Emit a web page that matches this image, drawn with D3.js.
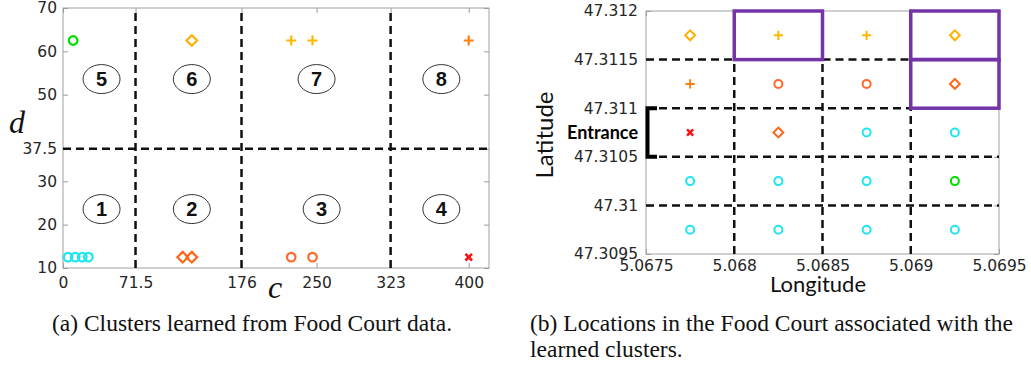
<!DOCTYPE html>
<html>
<head>
<meta charset="utf-8">
<script src="https://cdn.jsdelivr.net/npm/d3@7"></script>
<style>
  body { margin: 0; background: #fff; }
  svg { display: block; }
</style>
</head>
<body>
<div id="chart"></div>
<script>
// ---- panel (a) data: learned clusters in (c, d) space
const aC = [5, 12, 19, 25, 118, 127, 225, 246, 400, 10, 127, 225, 246, 400];
const aD = [12.5, 12.5, 12.5, 12.5, 12.5, 12.5, 12.5, 12.5, 12.5, 62.5, 62.5, 62.5, 62.5, 62.5];
const aKind = ["cyanO", "cyanO", "cyanO", "cyanO", "orangeD", "orangeD", "orangeO", "orangeO", "redX",
               "greenO", "amberD", "amberP", "amberP", "darkOrangeP"];
const aXTicks = [0, 71.5, 176, 250, 323, 400];
const aYTicks = [10, 20, 30, 37.5, 50, 60, 70];
const cSplits = [71.5, 176, 323];
const dSplit = 37.5;
const clusterIds = ["1", "2", "3", "4", "5", "6", "7", "8"];
const clusterC = [38, 127, 255, 373, 38, 127, 250, 373];
const clusterD = [23.6, 23.6, 23.6, 23.6, 53.6, 53.6, 53.6, 53.6];

// ---- panel (b) data: food court grid cells
const lonCenters = [5.06775, 5.06825, 5.06875, 5.06925];
const latCenters = [47.31175, 47.31125, 47.31075, 47.31025, 47.30975];
const cellKinds = [
  ["amberD", "amberP", "amberP", "amberD"],
  ["darkOrangeP", "orangeO", "orangeO", "orangeD"],
  ["redX", "orangeD", "cyanO", "cyanO"],
  ["cyanO", "cyanO", "cyanO", "greenO"],
  ["cyanO", "cyanO", "cyanO", "cyanO"]
];
const bXTicks = [5.0675, 5.068, 5.0685, 5.069, 5.0695];
const bYTicks = [47.3095, 47.31, 47.3105, 47.311, 47.3115, 47.312];
// dashed segments [lon1, lat1, lon2, lat2]
const bDashed = [
  [5.0675, 47.3115, 5.068, 47.3115],
  [5.0685, 47.3115, 5.069, 47.3115],
  [5.0675, 47.311, 5.069, 47.311],
  [5.0675, 47.3105, 5.0695, 47.3105],
  [5.0675, 47.31, 5.0695, 47.31],
  [5.068, 47.3095, 5.068, 47.3115],
  [5.0685, 47.3095, 5.0685, 47.3115],
  [5.069, 47.3095, 5.069, 47.311]
];
// highlighted cells [lon1, lat1, lon2, lat2]
const bBoxes = [
  [5.068, 47.3115, 5.0685, 47.312],
  [5.069, 47.3115, 5.0695, 47.312],
  [5.069, 47.311, 5.0695, 47.3115]
];
const entranceLat = [47.3105, 47.311];

const kindStyle = {
  cyanO:       { shape: "circle",  color: "#1fe6ef" },
  greenO:      { shape: "circle",  color: "#00dd00" },
  orangeO:     { shape: "circle",  color: "#ff6a2e" },
  orangeD:     { shape: "diamond", color: "#ff6418" },
  amberD:      { shape: "diamond", color: "#ffb000" },
  amberP:      { shape: "plus",    color: "#ffb800" },
  darkOrangeP: { shape: "plus",    color: "#ff8010" },
  redX:        { shape: "x",       color: "#ff1010" }
};

function markerPath(shape, s) {
  if (shape === "circle") {
    const p = d3.path();
    p.arc(0, 0, s, 0, 2 * Math.PI);
    return p.toString();
  }
  if (shape === "diamond") return `M0,${-s}L${s},0L0,${s}L${-s},0Z`;
  if (shape === "plus") return `M${-s},0H${s}M0,${-s}V${s}`;
  return `M${-s},${-s}L${s},${s}M${-s},${s}L${s},${-s}`;
}
const markerSize = { circle: 4.3, diamond: 5.3, plus: 5, x: 3.3 };

const tickFont = "'DejaVu Sans', sans-serif";
const svg = d3.select("#chart").append("svg")
  .attr("width", 1031)
  .attr("height", 368);

function styleAxis(g, showText) {
  g.select(".domain").remove();
  g.selectAll(".tick line").attr("stroke", "#9a9a9a");
  g.selectAll(".tick text")
    .attr("fill", "#262626")
    .attr("font-family", tickFont)
    .attr("font-size", 15.5)
    .style("display", showText ? null : "none");
}

// =============== panel (a) ===============
const aDim = { left: 63, right: 489, top: 8, bottom: 268 };
const xA = d3.scaleLinear().domain([0, 420]).range([aDim.left, aDim.right]);
const yA = d3.scaleLinear().domain([10, 70]).range([aDim.bottom, aDim.top]);
const gA = svg.append("g");

gA.append("g").attr("transform", `translate(0,${aDim.bottom})`)
  .call(d3.axisBottom(xA).tickValues(aXTicks).tickFormat(String).tickSize(-5).tickPadding(9))
  .call(g => styleAxis(g, true));
gA.append("g").attr("transform", `translate(${aDim.left},0)`)
  .call(d3.axisLeft(yA).tickValues(aYTicks).tickFormat(String).tickSize(-5).tickPadding(6))
  .call(g => styleAxis(g, true));
gA.append("g").attr("transform", `translate(0,${aDim.top})`)
  .call(d3.axisTop(xA).tickValues(aXTicks).tickSize(-5))
  .call(g => styleAxis(g, false));
gA.append("g").attr("transform", `translate(${aDim.right},0)`)
  .call(d3.axisRight(yA).tickValues(aYTicks).tickSize(-5))
  .call(g => styleAxis(g, false));

gA.append("rect")
  .attr("x", aDim.left).attr("y", aDim.top)
  .attr("width", aDim.right - aDim.left).attr("height", aDim.bottom - aDim.top)
  .attr("fill", "none").attr("stroke", "#a0a0a0");

// dashed partitions
gA.selectAll(".vsplit").data(cSplits).join("line")
  .attr("x1", d => xA(d)).attr("x2", d => xA(d))
  .attr("y1", yA(10)).attr("y2", yA(70))
  .attr("stroke", "#111").attr("stroke-width", 2.5).attr("stroke-dasharray", "8,5");
gA.append("line")
  .attr("x1", xA(0)).attr("x2", xA(420))
  .attr("y1", yA(dSplit)).attr("y2", yA(dSplit))
  .attr("stroke", "#111").attr("stroke-width", 2.5).attr("stroke-dasharray", "8,5");

// cluster labels
const lab = gA.selectAll(".lab").data(clusterIds).join("g")
  .attr("transform", (d, i) => `translate(${xA(clusterC[i])},${yA(clusterD[i])})`);
lab.append("ellipse").attr("rx", 18.5).attr("ry", 14.5)
  .attr("fill", "none").attr("stroke", "#333").attr("stroke-width", 1);
lab.append("text").text(d => d)
  .attr("text-anchor", "middle").attr("dy", "0.36em")
  .attr("font-family", "'Liberation Sans', Arial, sans-serif")
  .attr("font-weight", "bold").attr("font-size", 20).attr("fill", "#111");

// points
gA.selectAll(".pt").data(aC).join("path")
  .attr("transform", (d, i) => `translate(${xA(d)},${yA(aD[i])})`)
  .attr("d", (d, i) => {
    const sh = kindStyle[aKind[i]].shape;
    return markerPath(sh, markerSize[sh]);
  })
  .attr("fill", "none")
  .attr("stroke", (d, i) => kindStyle[aKind[i]].color)
  .attr("stroke-width", (d, i) => kindStyle[aKind[i]].shape === "x" ? 2.6 : 2.2);

// axis titles
gA.append("text").text("d")
  .attr("x", 9).attr("y", 133)
  .attr("font-family", "'Liberation Serif', serif").attr("font-style", "italic")
  .attr("font-size", 32).attr("fill", "#111");
gA.append("text").text("c")
  .attr("x", 268).attr("y", 298)
  .attr("font-family", "'Liberation Serif', serif").attr("font-style", "italic")
  .attr("font-size", 32).attr("fill", "#111");

gA.append("text").text("(a) Clusters learned from Food Court data.")
  .attr("x", 252).attr("y", 331).attr("text-anchor", "middle")
  .attr("font-family", "'Liberation Serif', 'Times New Roman', serif")
  .attr("font-size", 23.5).attr("fill", "#111");

// =============== panel (b) ===============
const bDim = { left: 646, right: 999, top: 11, bottom: 254 };
const xB = d3.scaleLinear().domain([5.0675, 5.0695]).range([bDim.left, bDim.right]);
const yB = d3.scaleLinear().domain([47.3095, 47.312]).range([bDim.bottom, bDim.top]);
const gB = svg.append("g");

gB.append("g").attr("transform", `translate(0,${bDim.bottom})`)
  .call(d3.axisBottom(xB).tickValues(bXTicks).tickFormat(String).tickSize(-5).tickPadding(6))
  .call(g => styleAxis(g, true));
gB.append("g").attr("transform", `translate(${bDim.left},0)`)
  .call(d3.axisLeft(yB).tickValues(bYTicks).tickFormat(String).tickSize(-5).tickPadding(8))
  .call(g => styleAxis(g, true));
gB.append("g").attr("transform", `translate(0,${bDim.top})`)
  .call(d3.axisTop(xB).tickValues(bXTicks).tickSize(-5))
  .call(g => styleAxis(g, false));
gB.append("g").attr("transform", `translate(${bDim.right},0)`)
  .call(d3.axisRight(yB).tickValues(bYTicks).tickSize(-5))
  .call(g => styleAxis(g, false));

gB.append("rect")
  .attr("x", bDim.left).attr("y", bDim.top)
  .attr("width", bDim.right - bDim.left).attr("height", bDim.bottom - bDim.top)
  .attr("fill", "none").attr("stroke", "#a0a0a0");

gB.selectAll(".dash").data(bDashed).join("line")
  .attr("x1", d => xB(d[0])).attr("y1", d => yB(d[1]))
  .attr("x2", d => xB(d[2])).attr("y2", d => yB(d[3]))
  .attr("stroke", "#111").attr("stroke-width", 2.5).attr("stroke-dasharray", "8,5");

gB.selectAll(".box").data(bBoxes).join("rect")
  .attr("x", d => xB(d[0])).attr("y", d => yB(d[3]))
  .attr("width", d => xB(d[2]) - xB(d[0]))
  .attr("height", d => yB(d[1]) - yB(d[3]))
  .attr("fill", "none").attr("stroke", "#7434a8").attr("stroke-width", 3.5);

// grid cell markers
const cells = [];
latCenters.forEach((lat, r) => lonCenters.forEach((lon, c) => cells.push({ lon, lat, kind: cellKinds[r][c] })));
gB.selectAll(".cell").data(cells).join("path")
  .attr("transform", d => `translate(${xB(d.lon)},${yB(d.lat)})`)
  .attr("d", d => {
    const sh = kindStyle[d.kind].shape;
    return markerPath(sh, markerSize[sh] * 0.93);
  })
  .attr("fill", "none")
  .attr("stroke", d => kindStyle[d.kind].color)
  .attr("stroke-width", d => kindStyle[d.kind].shape === "x" ? 2.4 : 2);

// entrance bracket
const eTop = yB(entranceLat[1]), eBot = yB(entranceLat[0]);
gB.append("path")
  .attr("d", `M${bDim.left + 11},${eTop}H${bDim.left + 1.5}V${eBot}H${bDim.left + 11}`)
  .attr("fill", "none").attr("stroke", "#000").attr("stroke-width", 4);
gB.append("text").text("Entrance")
  .attr("x", 638).attr("y", (eTop + eBot) / 2).attr("dy", "0.35em")
  .attr("text-anchor", "end")
  .attr("font-family", "Lato, 'Open Sans', sans-serif").attr("font-weight", "bold")
  .attr("font-size", 18).attr("fill", "#000");

gB.append("text").text("Latitude")
  .attr("transform", `translate(553,135) rotate(-90)`)
  .attr("text-anchor", "middle")
  .attr("font-family", "Lato, 'Open Sans', sans-serif")
  .attr("font-size", 24).attr("fill", "#111");
gB.append("text").text("Longitude")
  .attr("x", 818).attr("y", 292)
  .attr("text-anchor", "middle")
  .attr("font-family", "Lato, 'Open Sans', sans-serif")
  .attr("font-size", 22).attr("fill", "#111");

gB.append("text").text("(b) Locations in the Food Court associated with the")
  .attr("x", 530).attr("y", 331)
  .attr("font-family", "'Liberation Serif', 'Times New Roman', serif")
  .attr("font-size", 23.5).attr("fill", "#111");
gB.append("text").text("learned clusters.")
  .attr("x", 530).attr("y", 357)
  .attr("font-family", "'Liberation Serif', 'Times New Roman', serif")
  .attr("font-size", 23.5).attr("fill", "#111");
</script>
</body>
</html>
